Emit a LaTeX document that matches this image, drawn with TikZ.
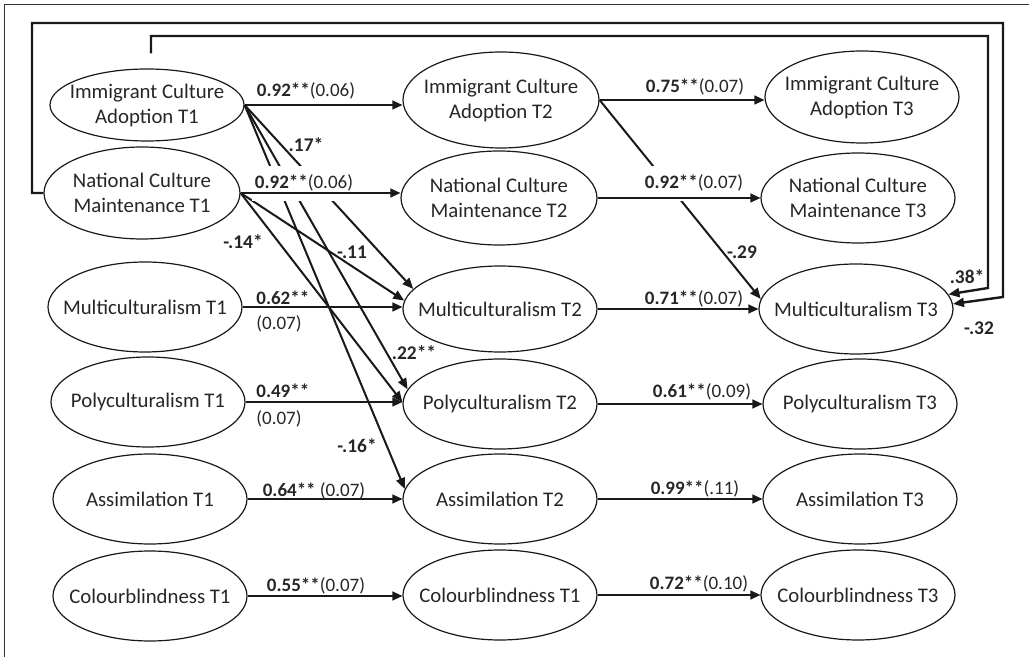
\documentclass[tikz,border=0pt]{standalone}
\usepackage{fontspec}
\setmainfont{Carlito}
\usetikzlibrary{arrows.meta,calc,shapes.geometric}
\begin{document}
\begin{tikzpicture}[x=0.5pt,y=-0.5pt,
  ell/.style={draw=black!90, ellipse, line width=0.6pt, minimum width=97pt, minimum height=45pt, inner sep=0pt},
  nt/.style={font=\fontsize{10.4}{12.5}\selectfont, align=center, text=black!85, inner sep=0pt},
  harrow/.style={draw=black!90, line width=0.6pt, -{Triangle[length=5pt,width=4.5pt]}},
  darrow/.style={draw=black!90, line width=1pt, -{Triangle[length=5.5pt,width=4.5pt]}},
  loopline/.style={draw=black!90, line width=1.2pt, -{Triangle[length=5.5pt,width=4.5pt]}},
  coef/.style={font=\fontsize{9.5}{11}\selectfont, text=black!85, inner sep=0pt, anchor=base},
  coefmask/.style={coef, fill=white, inner xsep=1.5pt, inner ysep=4.5pt},
  small/.style={font=\bfseries\fontsize{9.7}{11}\selectfont, text=black!85, inner sep=0pt}
]
\useasboundingbox (0,0) rectangle (1029,657);
% frame
\draw[line width=0.5pt, black!80] (4,657) -- (4,5) -- (1029,5);

% ellipses
\node[ell, minimum height=36pt] (ica1) at (147,105) {};
\node[ell, minimum width=98pt, minimum height=46pt] (ncm1) at (142,193) {};
\node[ell] (mult1) at (145,307) {};
\node[ell] (poly1) at (148,402) {};
\node[ell] (assim1) at (150,499) {};
\node[ell] (colour1) at (150,596) {};

\node[ell, minimum width=98pt, minimum height=48pt] (ica2) at (501,100) {};
\node[ell, minimum width=98pt, minimum height=47pt] (ncm2) at (499,198) {};
\node[ell, minimum height=43pt] (mult2) at (500,309) {};
\node[ell] (poly2) at (500,404) {};
\node[ell] (assim2) at (500,499) {};
\node[ell] (colour2) at (500,595) {};

\node[ell, minimum height=46pt] (ica3) at (862,97) {};
\node[ell] (ncm3) at (858,198) {};
\node[ell] (mult3) at (856,309) {};
\node[ell] (poly3) at (860,404) {};
\node[ell] (assim3) at (860,499) {};
\node[ell] (colour3) at (858,595) {};

% node texts
\node[nt] at (ica1) {Immigrant Culture\\Adoption T1};
\node[nt] at (ncm1) {National Culture\\Maintenance T1};
\node[nt] at (mult1) {Multiculturalism T1};
\node[nt] at (poly1) {Polyculturalism T1};
\node[nt] at (assim1) {Assimilation T1};
\node[nt] at (colour1) {Colourblindness T1};
\node[nt] at (ica2) {Immigrant Culture\\Adoption T2};
\node[nt] at (ncm2) {National Culture\\Maintenance T2};
\node[nt] at (mult2) {Multiculturalism T2};
\node[nt] at (poly2) {Polyculturalism T2};
\node[nt] at (assim2) {Assimilation T2};
\node[nt] at (colour2) {Colourblindness T1};
\node[nt] at (ica3) {Immigrant Culture\\Adoption T3};
\node[nt] at (ncm3) {National Culture\\Maintenance T3};
\node[nt] at (mult3) {Multiculturalism T3};
\node[nt] at (poly3) {Polyculturalism T3};
\node[nt] at (assim3) {Assimilation T3};
\node[nt] at (colour3) {Colourblindness T3};

% cross-lagged paths
\draw[darrow] (ica1.east) -- (mult2.167);
\draw[darrow] (ica1.east) -- (poly2.171);
\draw[darrow] (ica1.east) -- (assim2.174);
\draw[darrow] (ncm1.east) -- (mult2.175);
\draw[darrow] (ncm1.east) -- (poly2.179);
\draw[darrow] (ica2.east) -- (mult3.174);

% feedback loops to Multiculturalism T3
\coordinate (istart) at ($(ica1.north)+(4,-15)$);
\coordinate (ic1) at (988,36);
\coordinate (ic2) at (988,288);
\coordinate (oc1) at (32,23);
\coordinate (oc2) at (1003,297);
\draw[loopline] (istart) |- (ic1) -- (ic2) -- (mult3.9);
\draw[loopline] (ncm1.west) -| (oc1) -| (oc2) -- (mult3.3);

% masking labels
\node[coefmask] at (304,189) {\textbf{0.92**}(0.06)};
\node[coefmask] at (694,189) {\textbf{0.92**}(0.07)};

% horizontal autoregressive paths
\draw[harrow] (ica1.east) -- (ica1.east -| ica2.west);
\draw[harrow] (ncm1.east) -- (ncm1.east -| ncm2.west);
\draw[harrow] (mult1.east) -- (mult1.east -| mult2.west);
\draw[harrow] (poly1.east) -- (poly1.east -| poly2.west);
\draw[harrow] (assim1.east) -- (assim1.east -| assim2.west);
\draw[harrow] (colour1.east) -- (colour1.east -| colour2.west);
\draw[harrow] (ica2.east) -- (ica2.east -| ica3.west);
\draw[harrow] (ncm2.east) -- (ncm2.east -| ncm3.west);
\draw[harrow] (mult2.east) -- (mult2.east -| mult3.west);
\draw[harrow] (poly2.east) -- (poly2.east -| poly3.west);
\draw[harrow] (assim2.east) -- (assim2.east -| assim3.west);
\draw[harrow] (colour2.east) -- (colour2.east -| colour3.west);

% coefficient labels
\node[coef] at (306,97) {\textbf{0.92**}(0.06)};
\node[coef] at (695,93) {\textbf{0.75**}(0.07)};
\node[coef, anchor=base west] at (256,305) {\textbf{0.62**}};
\node[coef, anchor=base west] at (256,330) {(0.07)};
\node[coef] at (694,305) {\textbf{0.71**}(0.07)};
\node[coef, anchor=base west] at (256,398) {\textbf{0.49**}};
\node[coef, anchor=base west] at (256,425) {(0.07)};
\node[coef] at (702,398) {\textbf{0.61**}(0.09)};
\node[coef] at (314,497) {\textbf{0.64**} (0.07)};
\node[coef] at (695,495) {\textbf{0.99**}(.11)};
\node[coef] at (316,592) {\textbf{0.55**}(0.07)};
\node[coef] at (699,590) {\textbf{0.72**}(0.10)};

% small path labels
\node[small] at (306,145) {.17*};
\node[small] at (243,242) {-.14*};
\node[small] at (352,252) {-.11};
\node[small] at (414,353) {.22**};
\node[small] at (357,446) {-.16*};
\node[small] at (742,252) {-.29};
\node[small] at (967,277) {.38*};
\node[small] at (979,328) {-.32};
\end{tikzpicture}
\end{document}
